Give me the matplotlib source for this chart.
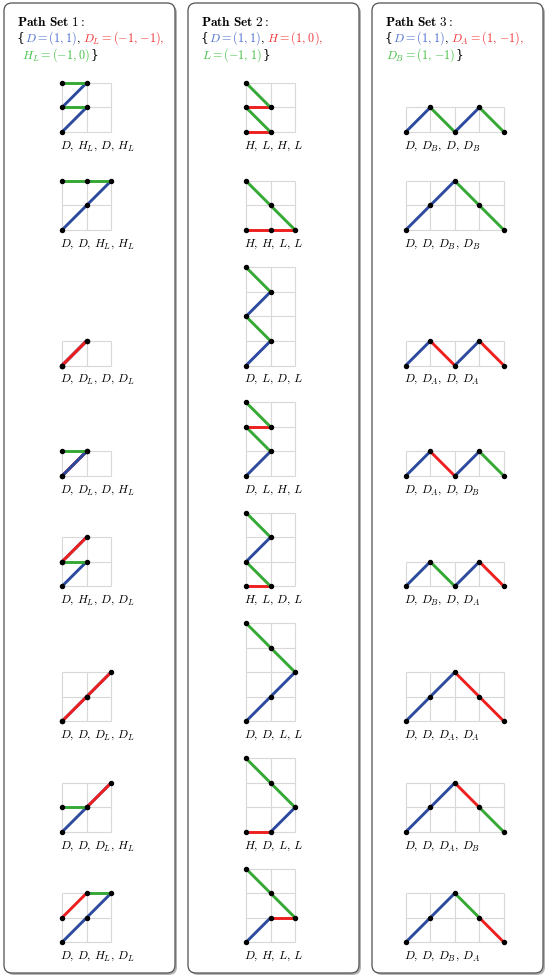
import numpy as np
import matplotlib
matplotlib.use('Agg')
import matplotlib.pyplot as plt
from matplotlib.patches import FancyBboxPatch

plt.rcParams['mathtext.fontset'] = 'cm'

# step vectors of the three path sets
set1_steps = {'D': (1, 1), 'D_L': (-1, -1), 'H_L': (-1, 0)}
set2_steps = {'D': (1, 1), 'H': (1, 0), 'L': (-1, 1)}
set3_steps = {'D': (1, 1), 'D_A': (1, -1), 'D_B': (1, -1)}

# the eight paths of each set
set1_paths = [
    ['D', 'H_L', 'D', 'H_L'],
    ['D', 'D', 'H_L', 'H_L'],
    ['D', 'D_L', 'D', 'D_L'],
    ['D', 'D_L', 'D', 'H_L'],
    ['D', 'H_L', 'D', 'D_L'],
    ['D', 'D', 'D_L', 'D_L'],
    ['D', 'D', 'D_L', 'H_L'],
    ['D', 'D', 'H_L', 'D_L'],
]
set2_paths = [
    ['H', 'L', 'H', 'L'],
    ['H', 'H', 'L', 'L'],
    ['D', 'L', 'D', 'L'],
    ['D', 'L', 'H', 'L'],
    ['H', 'L', 'D', 'L'],
    ['D', 'D', 'L', 'L'],
    ['H', 'D', 'L', 'L'],
    ['D', 'H', 'L', 'L'],
]
set3_paths = [
    ['D', 'D_B', 'D', 'D_B'],
    ['D', 'D', 'D_B', 'D_B'],
    ['D', 'D_A', 'D', 'D_A'],
    ['D', 'D_A', 'D', 'D_B'],
    ['D', 'D_B', 'D', 'D_A'],
    ['D', 'D', 'D_A', 'D_A'],
    ['D', 'D', 'D_A', 'D_B'],
    ['D', 'D', 'D_B', 'D_A'],
]
grid_widths = [2, 2, 4]

titles = [r'$\mathbf{Path\ Set\ 1{:}}$', r'$\mathbf{Path\ Set\ 2{:}}$', r'$\mathbf{Path\ Set\ 3{:}}$']

# farben
BLUE, RED, GREEN = '#2c4a9e', '#ee1f1f', '#35a835'
TBLUE, TRED, TGREEN = '#4f6fd0', '#f0363a', '#44c044'
step_colors = [
    {'D': BLUE, 'D_L': RED, 'H_L': GREEN},
    {'D': BLUE, 'H': RED, 'L': GREEN},
    {'D': BLUE, 'D_A': RED, 'D_B': GREEN},
]
LB, RB = '{', '}'
# (text, colour, gap before in px)
header_lines = [
    [[(LB, 'k', 0), (r'$D=(1,\!\;1)$', TBLUE, 0.5), ('$,$', 'k', -1.2), (r'$D_L=(-1,\!\;{-1}),$', TRED, 2.5)],
     [(r'$H_L=(-1,\!\;0)$', TGREEN, 5), (RB, 'k', 0)]],
    [[(LB, 'k', 0), (r'$D=(1,\!\;1)$', TBLUE, 0.5), ('$,$', 'k', -1.2), (r'$H=(1,\!\;0),$', TRED, 2.5)],
     [(r'$L=(-1,\!\;1)$', TGREEN, 1.5), (RB, 'k', 0)]],
    [[(LB, 'k', 0), (r'$D=(1,\!\;1)$', TBLUE, 0.5), ('$,$', 'k', -1.2), (r'$D_A=(1,\!\;{-1}),$', TRED, 2.5)],
     [(r'$D_B=(1,\!\;{-1})$', TGREEN, 1.5), (RB, 'k', 0)]],
]

# layout in pixels
W, H = 550, 979
U = 24.55
panel_x = [4, 188, 372]
panel_w = 171
origin_x = [62, 246, 405.7]
row_bottom = [133, 231, 366.5, 477, 587.3, 722.3, 833, 943.3]
FS_TITLE = 9.6
FS_HEAD = 8.7
FS_LABEL = 8.6

fig = plt.figure(figsize=(W / 100, H / 100), dpi=100)
bg = fig.add_axes([0, 0, 1, 1])
bg.set_xlim(0, W)
bg.set_ylim(H, 0)
bg.axis('off')
renderer = fig.canvas.get_renderer()


def colored_line(x, y, pieces):
    for s, c, gap in pieces:
        x += gap
        if s in (LB, RB):
            t = bg.text(x, y, s, color=c, fontsize=FS_HEAD, va='baseline', ha='left',
                        family='DejaVu Serif')
        else:
            t = bg.text(x, y, s, color=c, fontsize=FS_HEAD, va='baseline', ha='left')
        bb = t.get_window_extent(renderer=renderer)
        x = bg.transData.inverted().transform((bb.x1, 0))[0]


all_steps = [set1_steps, set2_steps, set3_steps]
all_paths = [set1_paths, set2_paths, set3_paths]

for p in range(3):
    # Rahmen mit Schatten
    px = panel_x[p]
    shadow = FancyBboxPatch((px + 2, 6), panel_w, 970, boxstyle='round,pad=0,rounding_size=8',
                            fc='#b4b4b4', ec='none', zorder=0)
    box = FancyBboxPatch((px, 4), panel_w, 970, boxstyle='round,pad=0,rounding_size=8',
                         fc='white', ec='#505050', lw=0.9, zorder=1)
    bg.add_patch(shadow)
    bg.add_patch(box)

    tx = px + 12.7
    bg.text(tx, 25.7, titles[p], fontsize=FS_TITLE, va='baseline', ha='left')
    colored_line(tx, 41.4, header_lines[p][0])
    colored_line(tx, 58.4, header_lines[p][1])

    steps = all_steps[p]
    colors = step_colors[p]
    for r, path in enumerate(all_paths[p]):
        vecs = np.array([steps[s] for s in path])
        pts = np.vstack([[0, 0], np.cumsum(vecs, axis=0)])
        ncols = grid_widths[p]
        nrows = max(1, pts[:, 1].max())

        ox = origin_x[p]
        yb = row_bottom[r]
        ax = fig.add_axes([ox / W, (H - yb) / H, ncols * U / W, nrows * U / H])
        ax.set_xlim(0, ncols)
        ax.set_ylim(0, nrows)
        ax.axis('off')
        ax.vlines(range(ncols + 1), 0, nrows, color='#d8d8d8', lw=0.8, clip_on=False, zorder=1)
        ax.hlines(range(nrows + 1), 0, ncols, color='#d8d8d8', lw=0.8, clip_on=False, zorder=1)
        for i, s in enumerate(path):
            ax.plot(pts[i:i + 2, 0], pts[i:i + 2, 1], color=colors[s], lw=2.1,
                    solid_capstyle='butt', clip_on=False, zorder=2 + i)
        ax.plot(pts[:, 0], pts[:, 1], 'o', color='black', ms=2.9, clip_on=False, zorder=10)

        label = '$' + r',\,'.join(path) + '$'
        bg.text(ox - 2, yb + 15.5, label, fontsize=FS_LABEL, va='baseline', ha='left')

fig.savefig('out.png', dpi=100)
